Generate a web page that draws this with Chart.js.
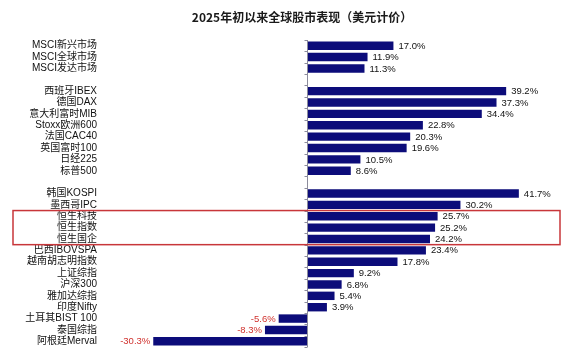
<!DOCTYPE html>
<html>
<head>
<meta charset="utf-8">
<script src="https://cdn.jsdelivr.net/npm/chart.js@4/dist/chart.umd.min.js"></script>
<style>
html,body{margin:0;padding:0;background:#fff;overflow:hidden;}
canvas{display:block;}
</style>
</head>
<body>
<canvas id="c" width="574" height="353" style="width:574px;height:353px"></canvas>
<script>
const titleText = '2025年初以来全球股市表现（美元计价）';
const categories = [
  'MSCI新兴市场','MSCI全球市场','MSCI发达市场','',
  '西班牙IBEX','德国DAX','意大利富时MIB','Stoxx欧洲600','法国CAC40','英国富时100','日经225','标普500','',
  '韩国KOSPI','墨西哥IPC','恒生科技','恒生指数','恒生国企','巴西IBOVSPA','越南胡志明指数','上证综指','沪深300','雅加达综指','印度Nifty','土耳其BIST 100','泰国综指','阿根廷Merval'
];
const returns = [
  17.0, 11.9, 11.3, null,
  39.2, 37.3, 34.4, 22.8, 20.3, 19.6, 10.5, 8.6, null,
  41.7, 30.2, 25.7, 25.2, 24.2, 23.4, 17.8, 9.2, 6.8, 5.4, 3.9, -5.6, -8.3, -30.3
];
const highlighted = ['恒生科技','恒生指数','恒生国企'];
const xMin = -40, xMax = 50;

const latin = '"Liberation Sans", Arial, "Noto Sans CJK SC", sans-serif';

const decorPlugin = {
  id: 'decor',
  afterDatasetsDraw(chart) {
    const ctx = chart.ctx;
    const xs = chart.scales.x, ys = chart.scales.y;
    const area = chart.chartArea;
    // title
    ctx.save();
    ctx.font = 'bold 12px "Noto Sans CJK SC", sans-serif';
    ctx.fillStyle = '#1a1a1a';
    ctx.textAlign = 'center';
    ctx.textBaseline = 'middle';
    ctx.fillText(titleText, chart.width / 2 + 15, 17);
    const x0 = Math.round(xs.getPixelForValue(0)) + 0.5;
    // zero axis with ticks
    ctx.strokeStyle = '#8c8c9c';
    ctx.lineWidth = 1;
    ctx.beginPath();
    ctx.moveTo(x0, area.top);
    ctx.lineTo(x0, area.bottom);
    for (let i = 0; i <= categories.length; i++) {
      const y = Math.round(ys.getPixelForValue(i - 0.5)) + 0.5;
      ctx.moveTo(x0 - 3, y);
      ctx.lineTo(x0, y);
    }
    ctx.stroke();
    // value labels
    const meta = chart.getDatasetMeta(0);
    ctx.font = '9.5px ' + latin;
    ctx.textBaseline = 'middle';
    meta.data.forEach((bar, i) => {
      const v = returns[i];
      if (v === null || v === undefined) return;
      const txt = v.toFixed(1) + '%';
      if (v >= 0) {
        ctx.fillStyle = '#111';
        ctx.textAlign = 'left';
        ctx.fillText(txt, bar.x + 5, bar.y + 0.5);
      } else {
        ctx.fillStyle = '#d0312d';
        ctx.textAlign = 'right';
        ctx.fillText(txt, bar.x - 3, bar.y + 0.5);
      }
    });
    // highlight box
    const idx = highlighted.map(h => categories.indexOf(h));
    const top = ys.getPixelForValue(Math.min(...idx) - 0.5);
    const bot = ys.getPixelForValue(Math.max(...idx) + 0.5);
    ctx.strokeStyle = '#c8363a';
    ctx.lineWidth = 1.5;
    ctx.strokeRect(13, top, area.right - 1 - 13, bot - top);
    ctx.restore();
  }
};

new Chart(document.getElementById('c'), {
  type: 'bar',
  data: {
    labels: categories,
    datasets: [{
      data: returns,
      backgroundColor: '#0c0c7a',
      borderWidth: 0,
      barPercentage: 0.74,
      categoryPercentage: 1.0
    }]
  },
  options: {
    indexAxis: 'y',
    responsive: false,
    maintainAspectRatio: false,
    animation: false,
    devicePixelRatio: 1,
    layout: { padding: { left: 0, right: 13, top: 40, bottom: 6 } },
    plugins: {
      legend: { display: false },
      tooltip: { enabled: false },
      title: { display: false }
    },
    scales: {
      x: {
        display: false,
        min: xMin,
        max: xMax
      },
      y: {
        afterFit(scale) {
          scale.width = 104;
          scale.paddingTop = 0;
          scale.paddingBottom = 0;
        },
        grid: { display: false, drawTicks: false },
        border: { display: false },
        ticks: {
          color: '#111',
          padding: 7,
          autoSkip: false,
          font: { size: 10, family: latin }
        }
      }
    }
  },
  plugins: [decorPlugin]
});
</script>
</body>
</html>
